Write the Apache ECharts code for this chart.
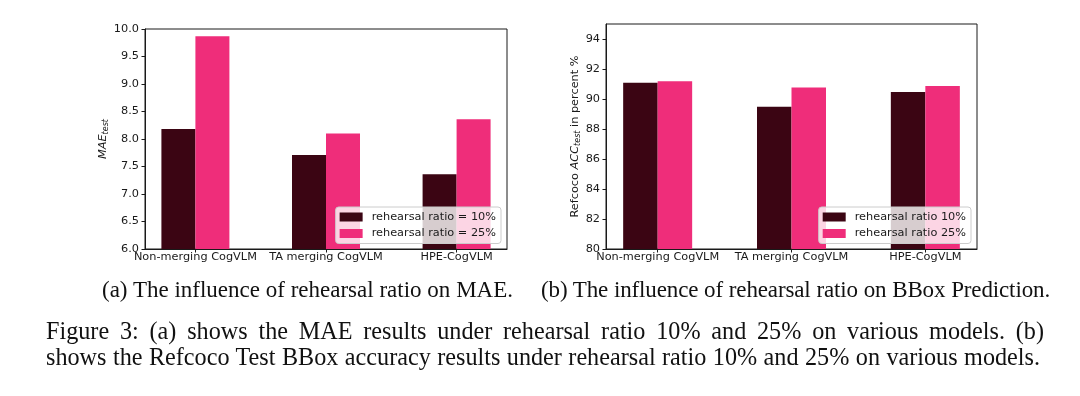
<!DOCTYPE html>
<html>
<head>
<meta charset="utf-8">
<script src="https://cdn.jsdelivr.net/npm/echarts@6/dist/echarts.min.js"></script>
<style>
  html, body { margin: 0; padding: 0; background: #fff; }
  #wrap { position: relative; width: 1080px; height: 396px; overflow: hidden; }
  #chart { position: absolute; left: 0; top: 0; width: 1080px; height: 396px; }
  .cap { position: absolute; font-family: "Liberation Serif", "Times New Roman", serif; font-size: 23px; line-height: 23px; color: #111; white-space: nowrap; text-align: justify; text-align-last: justify; }
  .main { font-size: 24.2px; line-height: 24.2px; }
</style>
</head>
<body>
<div id="wrap">
  <div id="chart"></div>
  <div class="cap" style="left:102px; top:278px; width:411px;">(a) The influence of rehearsal ratio on MAE.</div>
  <div class="cap" style="left:541px; top:278px; width:509px; letter-spacing:-0.13px;">(b) The influence of rehearsal ratio on BBox Prediction.</div>
  <div class="cap main" style="left:46px; top:318.7px; width:998px;">Figure 3: (a) shows the MAE results under rehearsal ratio 10% and 25% on various models. (b)</div>
  <div class="cap main" style="left:46px; top:344.7px; width:994px;">shows the Refcoco Test BBox accuracy results under rehearsal ratio 10% and 25% on various models.</div>
</div>
<script>
// ---- data ----
const categories = ['Non-merging CogVLM', 'TA merging CogVLM', 'HPE-CogVLM'];
const maeSeriesNames = ['rehearsal ratio = 10%', 'rehearsal ratio = 25%'];
const accSeriesNames = ['rehearsal ratio 10%', 'rehearsal ratio 25%'];
const mae10 = [8.18, 7.71, 7.36];
const mae25 = [9.87, 8.10, 8.36];
const acc10 = [91.08, 89.48, 90.46];
const acc25 = [91.19, 90.77, 90.86];
const maeTicks = [6.0, 6.5, 7.0, 7.5, 8.0, 8.5, 9.0, 9.5, 10.0];
const accTicks = [80, 82, 84, 86, 88, 90, 92, 94];
const catPositions = [0, 1, 2];

const DARK = '#3b0513';
const PINK = '#ef2d7a';
const FONT = 'DejaVu Sans';
const FS = 11.3;
const TXT = '#1a1a1a';

const chart = echarts.init(document.getElementById('chart'), null, { renderer: 'canvas' });

function xAxisDef(gridIndex) {
  return {
    type: 'value', gridIndex: gridIndex, min: -0.386, max: 2.386,
    splitLine: { show: false },
    axisLine: { show: true, onZero: false, lineStyle: { color: TXT, width: 1 } },
    axisTick: { show: true, customValues: catPositions, length: 3.5, lineStyle: { color: TXT } },
    axisLabel: {
      customValues: catPositions, margin: 3,
      formatter: v => categories[Math.round(v)] || '',
      fontFamily: FONT, fontSize: FS, color: TXT
    }
  };
}

function toPairs(arr) { return arr.map((v, i) => [catPositions[i], v]); }

const legendCommon = {
  orient: 'vertical', top: 207, icon: 'rect', itemWidth: 23, itemHeight: 9, itemGap: 4.5,
  padding: [4, 5, 4, 4],
  backgroundColor: 'rgba(255,255,255,0.8)', borderColor: '#cccccc', borderWidth: 1, borderRadius: 3,
  selectedMode: false,
  textStyle: { fontFamily: FONT, fontSize: FS, color: TXT, lineHeight: 12, padding: [0, 0, 0, 4] }
};

chart.setOption({
  animation: false,
  grid: [
    { left: 145, top: 29, width: 362, height: 220, show: true, borderColor: TXT, borderWidth: 1, backgroundColor: 'transparent' },
    { left: 606, top: 24, width: 371, height: 225, show: true, borderColor: TXT, borderWidth: 1, backgroundColor: 'transparent' }
  ],
  xAxis: [xAxisDef(0), xAxisDef(1)],
  yAxis: [
    {
      type: 'value', gridIndex: 0, min: 6, max: 10,
      splitLine: { show: false },
      axisLine: { show: true, onZero: false, lineStyle: { color: TXT } },
      axisTick: { show: true, customValues: maeTicks, length: 3.5, lineStyle: { color: TXT } },
      axisLabel: { customValues: maeTicks, margin: 6, formatter: v => v.toFixed(1), fontFamily: FONT, fontSize: FS, color: TXT },
      name: '{i|MAE}{s|test}', nameLocation: 'middle', nameRotate: 90, nameGap: 31,
      nameTextStyle: {
        fontFamily: FONT, fontSize: FS, color: TXT,
        rich: {
          i: { fontFamily: FONT, fontSize: FS, fontStyle: 'italic', color: TXT },
          s: { fontFamily: FONT, fontSize: 8, fontStyle: 'italic', color: TXT, padding: [6, 0, 0, 0] }
        }
      }
    },
    {
      type: 'value', gridIndex: 1, min: 80, max: 95,
      splitLine: { show: false },
      axisLine: { show: true, onZero: false, lineStyle: { color: TXT } },
      axisTick: { show: true, customValues: accTicks, length: 3.5, lineStyle: { color: TXT } },
      axisLabel: { customValues: accTicks, margin: 6, fontFamily: FONT, fontSize: FS, color: TXT },
      name: 'Refcoco {i|ACC}{s|test} in percent %', nameLocation: 'middle', nameRotate: 90, nameGap: 22,
      nameTextStyle: {
        fontFamily: FONT, fontSize: FS, color: TXT,
        rich: {
          i: { fontFamily: FONT, fontSize: FS, fontStyle: 'italic', color: TXT },
          s: { fontFamily: FONT, fontSize: 8, fontStyle: 'italic', color: TXT, padding: [6, 0, 0, 0] }
        }
      }
    }
  ],
  legend: [
    Object.assign({}, legendCommon, { right: 579, data: maeSeriesNames }),
    Object.assign({}, legendCommon, { right: 109, data: accSeriesNames })
  ],
  series: [
    { type: 'bar', name: maeSeriesNames[0], xAxisIndex: 0, yAxisIndex: 0, barWidth: 34, barGap: '0%', itemStyle: { color: DARK }, data: toPairs(mae10) },
    { type: 'bar', name: maeSeriesNames[1], xAxisIndex: 0, yAxisIndex: 0, barWidth: 34, barGap: '0%', itemStyle: { color: PINK }, data: toPairs(mae25) },
    { type: 'bar', name: accSeriesNames[0], xAxisIndex: 1, yAxisIndex: 1, barWidth: 34.5, barGap: '0%', itemStyle: { color: DARK }, data: toPairs(acc10) },
    { type: 'bar', name: accSeriesNames[1], xAxisIndex: 1, yAxisIndex: 1, barWidth: 34.5, barGap: '0%', itemStyle: { color: PINK }, data: toPairs(acc25) }
  ]
});
</script>
</body>
</html>
